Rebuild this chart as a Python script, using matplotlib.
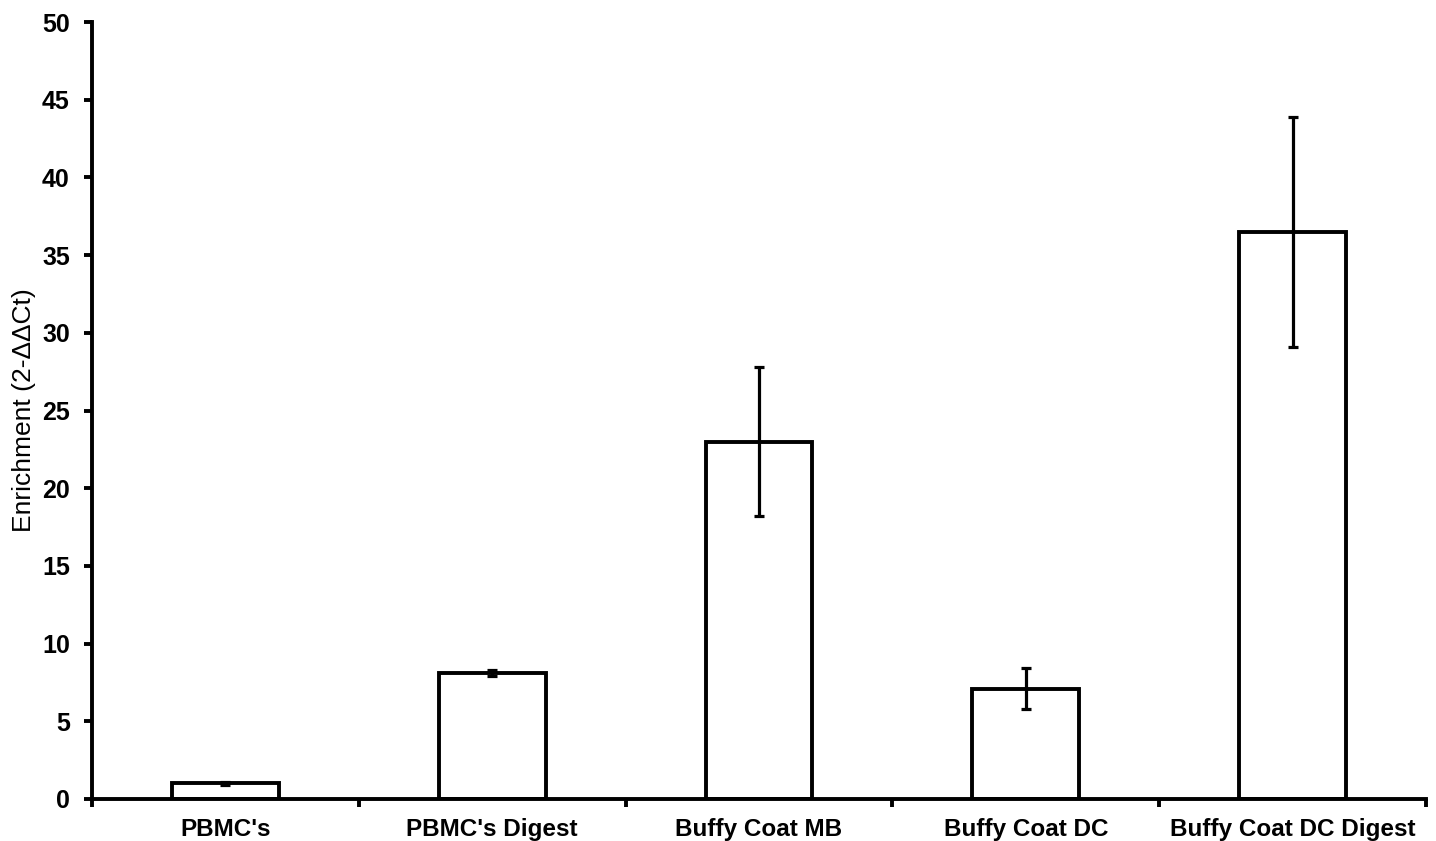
import matplotlib
matplotlib.use("Agg")
import matplotlib.pyplot as plt
import numpy as np

categories = ["PBMC's", "PBMC's Digest", "Buffy Coat MB", "Buffy Coat DC", "Buffy Coat DC Digest"]
values = [1.0, 8.1, 23.0, 7.1, 36.5]
errors = [0.1, 0.2, 4.8, 1.3, 7.4]
yticks = [0, 5, 10, 15, 20, 25, 30, 35, 40, 45, 50]

plt.rcParams['font.family'] = ['Liberation Sans', 'DejaVu Sans']

fig = plt.figure(figsize=(14.36, 8.41), dpi=100)
ax = fig.add_axes([92/1436, 1-799/841, (1426-92)/1436, (799-22)/841])

x = np.arange(len(categories))
ax.bar(x, values, width=0.4, color='white', edgecolor='black', linewidth=2.8, zorder=2)
ax.errorbar(x, values, yerr=errors, fmt='none', ecolor='black', elinewidth=2.3,
            capsize=3.5, capthick=2.3, zorder=3)

ax.set_xlim(-0.5, len(categories) - 0.5)
ax.set_ylim(0, 50)
ax.set_yticks(yticks)
ax.set_yticklabels([str(t) for t in yticks], fontsize=18, fontweight='bold')
ax.set_xticks(x)
ax.set_xticklabels(categories, fontsize=17.5, fontweight='bold')
ax.set_xticks(np.arange(len(categories) + 1) - 0.5, minor=True)
ax.tick_params(axis='x', which='major', length=0, pad=13.5)
ax.tick_params(axis='x', which='minor', length=6, width=2.8, direction='out')
ax.tick_params(axis='y', which='major', length=6, width=2.8, direction='out', pad=10)

for s in ['top', 'right']:
    ax.spines[s].set_visible(False)
for s in ['left', 'bottom']:
    ax.spines[s].set_linewidth(2.8)

ax.set_ylabel("Enrichment (2-ΔΔCt)", fontsize=19)
ax.yaxis.set_label_coords(-0.042, 0.5)

fig.savefig("out.png", dpi=100, facecolor='white')
